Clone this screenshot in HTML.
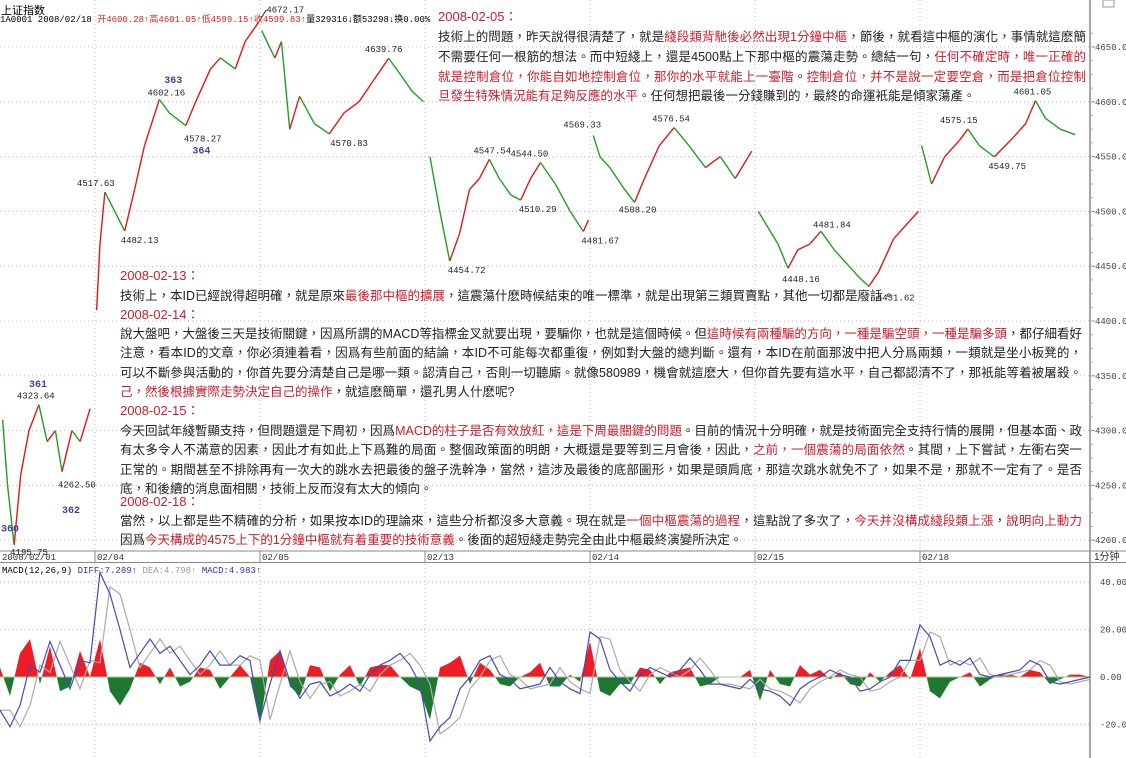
<!DOCTYPE html>
<html><head><meta charset="utf-8">
<style>
html,body{margin:0;padding:0;background:#fff;}
#wrap{position:relative;width:1126px;height:758px;overflow:hidden;background:#fff;font-family:"Liberation Sans","Noto Sans CJK TC",sans-serif;}
svg{position:absolute;left:0;top:0;}
.ln{position:absolute;font-size:12.5px;line-height:16px;height:16px;color:#222;white-space:nowrap;font-family:"Liberation Sans","Noto Sans CJK TC",sans-serif;}
.j{text-align:justify;text-align-last:justify;white-space:normal;overflow:hidden;}
.r{color:#c8202e;}
.t{color:#c8202e;font-size:13px;}
.hdr{position:absolute;font-family:"Liberation Mono","Noto Sans CJK SC",monospace;font-size:9px;white-space:nowrap;}
</style></head><body>
<div id="wrap">
<svg id="chart" width="1126" height="758"></svg>

<div class="hdr" style="left:1px;top:2px;font-size:11px;font-family:'Liberation Sans','Noto Sans CJK SC',sans-serif;">上证指数</div>
<div class="hdr" style="left:0;top:12px;">1A0001 2008/02/18 <span style="color:#e02020">开4600.28↑高4601.05↑低4599.15↑收4599.83↑</span>量329316↓额53298↓换0.00%</div>
<div class="hdr" style="left:2px;top:566px;">MACD(12,26,9) <span style="color:#3030c0">DIFF:7.289↑</span> <span style="color:#999">DEA:4.798↑</span> <span style="color:#3030c0">MACD:4.983↑</span></div>

<div class="ln t" style="left:438px;top:9px;">2008-02-05：</div>
<div class="ln j" style="left:438px;top:29px;width:648px;">技術上的問題，昨天說得很清楚了，就是<span class="r">綫段類背馳後必然出現1分鐘中樞</span>，節後，就看這中樞的演化，事情就這麽簡單，</div>
<div class="ln j" style="left:438px;top:49px;width:648px;">不需要任何一根筋的想法。而中短綫上，還是4500點上下那中樞的震蕩走勢。總結一句，<span class="r">任何不確定時，唯一正確的做法</span></div>
<div class="ln j" style="left:438px;top:69px;width:648px;"><span class="r">就是控制倉位，你能自如地控制倉位，那你的水平就能上一臺階</span>。<span class="r">控制倉位，并不是說一定要空倉，而是把倉位控制在一</span></div>
<div class="ln" style="left:438px;top:88px;"><span class="r">旦發生特殊情況能有足夠反應的水平</span>。任何想把最後一分錢賺到的，最終的命運衹能是傾家蕩產。</div>

<div class="ln t" style="left:120px;top:268px;">2008-02-13：</div>
<div class="ln" style="left:120px;top:288px;">技術上，本ID已經說得超明確，就是原來<span class="r">最後那中樞的擴展</span>，這震蕩什麽時候結束的唯一標準，就是出現第三類買賣點，其他一切都是廢話。</div>
<div class="ln t" style="left:120px;top:307px;">2008-02-14：</div>
<div class="ln j" style="left:120px;top:326px;width:962px;">說大盤吧，大盤後三天是技術關鍵，因爲所謂的MACD等指標金叉就要出現，要騙你，也就是這個時候。但<span class="r">這時候有兩種騙的方向，一種是騙空頭，一種是騙多頭</span>，都仔細看好了。</div>
<div class="ln j" style="left:120px;top:345px;width:962px;">注意，看本ID的文章，你必須連着看，因爲有些前面的結論，本ID不可能每次都重復，例如對大盤的總判斷。還有，本ID在前面那波中把人分爲兩類，一類就是坐小板凳的，一類是</div>
<div class="ln j" style="left:120px;top:365px;width:962px;">可以不斷參與活動的，你首先要分清楚自己是哪一類。認清自己，否則一切聽廝。就像580989，機會就這麽大，但你首先要有這水平，自己都認清不了，那衹能等着被屠殺。<span class="r">認清自</span></div>
<div class="ln" style="left:120px;top:384px;"><span class="r">己，然後根據實際走勢決定自己的操作</span>，就這麽簡單，還孔男人什麽呢?</div>
<div class="ln t" style="left:120px;top:403px;">2008-02-15：</div>
<div class="ln j" style="left:120px;top:423px;width:962px;">今天回試年綫暫顯支持，但問題還是下周初，因爲<span class="r">MACD的柱子是否有效放紅，這是下周最關鍵的問題</span>。目前的情況十分明確，就是技術面完全支持行情的展開，但基本面、政策面</div>
<div class="ln j" style="left:120px;top:442px;width:962px;">有太多令人不滿意的因素，因此才有如此上下爲難的局面。整個政策面的明朗，大概還是要等到三月會後，因此，<span class="r">之前，一個震蕩的局面依然</span>。其間，上下嘗試，左衝右突一下是很</div>
<div class="ln j" style="left:120px;top:462px;width:962px;">正常的。期間甚至不排除再有一次大的跳水去把最後的盤子洗幹净，當然，這涉及最後的底部圖形，如果是頭肩底，那這次跳水就免不了，如果不是，那就不一定有了。是否頭肩</div>
<div class="ln" style="left:120px;top:481px;">底，和後續的消息面相關，技術上反而沒有太大的傾向。</div>
<div class="ln t" style="left:120px;top:494px;">2008-02-18：</div>
<div class="ln j" style="left:120px;top:513px;width:962px;">當然，以上都是些不精確的分析，如果按本ID的理論來，這些分析都沒多大意義。現在就是<span class="r">一個中樞震蕩的過程</span>，這點說了多次了，<span class="r">今天并沒構成綫段類上漲</span>，<span class="r">說明向上動力不足</span>，</div>
<div class="ln" style="left:120px;top:532px;">因爲<span class="r">今天構成的4575上下的1分鐘中樞就有着重要的技術意義</span>。後面的超短綫走勢完全由此中樞最終演變所決定。</div>
</div>

<script>
// ---- data ----
const dayLabels = ["2008/02/01","02/04","02/05","02/13","02/14","02/15","02/18"];
const dayStarts = [0.424,1,2,3,4,5,6];
const priceTicks = [4650,4600,4550,4500,4450,4400,4350,4300,4250,4200];
const macdTicks = [40,20,0,-20];
const priceT = [0.44,0.47,0.51,0.55,0.6,0.66,0.71,0.76,0.8,0.86,0.91,0.97,
 1.01,1.03,1.06,1.12,1.18,1.24,1.3,1.39,1.45,1.55,1.61,1.7,1.76,1.85,1.91,1.99,
 2.01,2.09,2.13,2.18,2.24,2.33,2.42,2.51,2.6,2.69,2.78,2.85,2.92,2.99,
 3.03,3.09,3.15,3.21,3.27,3.33,3.39,3.45,3.52,3.58,3.64,3.7,3.79,3.88,3.96,3.99,
 4.02,4.06,4.12,4.21,4.27,4.33,4.42,4.51,4.6,4.7,4.79,4.88,4.98,
 5.02,5.08,5.14,5.2,5.26,5.33,5.4,5.48,5.57,5.63,5.69,5.75,5.84,5.93,5.99,
 6.01,6.07,6.15,6.24,6.29,6.36,6.45,6.55,6.64,6.7,6.76,6.85,6.94,7.0];
const priceV = [4310,4250,4195.75,4260,4300,4323.64,4290,4300,4262.5,4300,4290,4320,
 4410,4470,4517.63,4500,4482.13,4520,4560,4602.16,4590,4578.27,4600,4630,4640,4630,4655,4672.17,
 4665,4640,4655,4575,4605,4580,4570.83,4590,4600,4620,4639.76,4625,4610,4600,
 4550,4500,4454.72,4480,4520,4530,4547.54,4530,4515,4510.29,4530,4544.5,4525,4500,4481.67,4492,
 4569.33,4550,4540,4520,4508.2,4530,4560,4576.54,4560,4540,4550,4530,4555,
 4500,4485,4470,4448.16,4465,4470,4481.84,4465,4450,4440,4431.62,4445,4475,4490,4500,
 4560,4525,4550,4565,4575.15,4560,4549.75,4565,4580,4601.05,4585,4575,4570,4567];
const labelT = [1.99,1.39,1.55,1.06,1.18,2.78,2.51,3.15,3.39,3.58,3.7,3.96,4.02,4.27,4.51,5.2,5.4,5.69,6.29,6.45,6.7,0.66,0.8,0.51];
const labelP = [4672.17,4602.16,4578.27,4517.63,4482.13,4639.76,4570.83,4454.72,4547.54,4510.29,4544.5,4481.67,4569.33,4508.2,4576.54,4448.16,4481.84,4431.62,4575.15,4549.75,4601.05,4323.64,4262.5,4195.75];
const labelDX = [8,-12,-2,-28,-4,-24,-14,-2,-16,-2,-30,-2,-30,-16,-22,-6,-8,8,-28,-6,-22,-22,-4,-4];
const labelDY = [-10,-4,16,-6,12,-6,12,12,-6,12,-6,12,-8,10,-6,14,-4,14,-6,12,-6,-6,16,10];
const waveNames = ["363","364","361","362","360"];
const waveT = [1.42,1.59,0.6,0.8,0.43];
const waveP = [4617,4553,4340,4225,4208];
const macdHist = [4,-8,10,16,-3,13,-6,-4,11,0,16,-6,-12,-5,6,4,-3,4,-4,-2,4,3,-5,0,5,0,-20,7,11,-4,-8,5,4,-6,1,5,-4,4,5,5,0,-4,-6,-18,4,6,9,-3,6,3,-3,-4,0,2,6,
 -4,-4,1,-2,15,-6,-8,-3,-3,4,3,-3,2,3,4,-4,-3,0,0,0,3,-10,3,-3,-4,5,1,3,-1,2,-3,-4,2,-2,2,5,-1,12,-6,-9,-2,0,2,-4,-1,1,1,0,3,2,-3,-1,1,1,0];
const macdDiff = [-14,-21,-12,5,2,15,5,-5,7,6,44,35,20,4,10,16,10,13,7,1,5,11,5,5,9,7,-18,-3,11,-2,-9,-3,-2,-8,-6,-3,-6,1,5,7,10,5,-3,-27,-21,-17,-5,0,7,9,1,-1,-5,-4,-3,
 4,-2,-5,-7,19,16,3,-2,-6,1,4,2,0,3,8,3,-3,-3,-4,-5,-1,-5,-6,-8,-12,-5,-2,0,3,1,0,-6,-5,-2,0,7,7,22,17,5,7,5,8,1,0,1,2,3,7,5,-2,-3,-2,-1,0];
const macdDea = [-14,-14,-21,-12,5,2,15,5,-5,7,6,38,35,20,4,10,16,10,13,7,1,5,11,5,5,9,7,-18,-3,11,-2,-9,-3,-2,-8,-6,-3,-6,1,5,7,10,5,-3,-24,-21,-17,-5,0,7,9,1,-1,-5,-4,
 -3,4,-2,-5,-7,17,16,3,-2,-6,1,4,2,0,3,8,3,-3,-3,-4,-5,-1,-5,-6,-8,-11,-5,-2,0,3,1,0,-6,-5,-2,0,7,7,19,17,5,7,5,8,1,0,1,2,3,7,5,-2,-3,-2,-1];

// ---- scales ----
const X0 = 95, DAYW = 165, AXX = 1090;
const xT = t => X0 + (t - 1) * DAYW;
const yP = p => 47 + (4650 - p) * 1.096;
const yM = v => 677 - v * 2.37;
const xM = i => i * AXX / (macdHist.length - 1);

const svg = document.getElementById('chart');
const NS = 'http://www.w3.org/2000/svg';
function mk(tag, attrs, parent) {
  const e = document.createElementNS(NS, tag);
  for (const k in attrs) e.setAttribute(k, attrs[k]);
  (parent || svg).appendChild(e);
  return e;
}

let e;
e = mk('line', {x1:AXX,y1:0,x2:AXX,y2:758,stroke:'#888','stroke-width':1.5});


e = mk('line', {x1:0,y1:551,x2:1126,y2:551,stroke:'#888'});


e = mk('line', {x1:0,y1:562.5,x2:1126,y2:562.5,stroke:'#888'});


e = mk('rect', {x:1103,y:0,width:11,height:7,fill:'none',stroke:'#999'});



priceTicks.forEach(p => {
  const y = yP(p);
  e = mk('line', {x1:0,y1:y,x2:AXX,y2:y,stroke:'#bbb','stroke-dasharray':'1,3'});
  
  
  e = mk('line', {x1:AXX,y1:y,x2:AXX+5,y2:y,stroke:'#888'});
  
  
  e = mk('text', {x:AXX+5,y:y+3,'font-size':9,'font-family':'Liberation Mono, monospace',fill:'#444'});
  e.textContent = p.toFixed(1);
  
  
});
for (let p = 4200; p <= 4670; p += 12.5) {
  e = mk('line', {x1:AXX,y1:yP(p),x2:AXX+3,y2:yP(p),stroke:'#aaa'});
  
  
}
macdTicks.forEach(v => {
  const y = yM(v);
  if (v !== 0) {
    e = mk('line', {x1:0,y1:y,x2:AXX,y2:y,stroke:'#bbb','stroke-dasharray':'1,3'});
    
    
  }
  e = mk('text', {x:AXX+10,y:y+3,'font-size':9,'font-family':'Liberation Mono, monospace',fill:'#444'});
  e.textContent = v.toFixed(2);
  
  
});
e = mk('text', {x:AXX+4,y:560,'font-size':10,'font-family':'Liberation Sans, Noto Sans CJK SC, sans-serif',fill:'#333'});
e.textContent = '1分钟';



dayStarts.forEach((t, i) => {
  const x = i === 0 ? 0 : xT(t);
  if (i > 0) {
    e = mk('line', {x1:x,y1:0,x2:x,y2:758,stroke:'#bbb','stroke-dasharray':'1,3'});
    
    
    e = mk('line', {x1:x,y1:551,x2:x,y2:562,stroke:'#888'});
    
    
  }
  e = mk('text', {x:x+2,y:560,'font-size':9,'font-family':'Liberation Mono, monospace',fill:'#333'});
  e.textContent = dayLabels[i];
  
  
});

for (let i = 0; i < priceT.length - 1; i++) {
  if (Math.floor(priceT[i]) !== Math.floor(priceT[i+1])) continue;
  const up = priceV[i+1] >= priceV[i];
  e = mk('line', {x1:xT(priceT[i]),y1:yP(priceV[i]),x2:xT(priceT[i+1]),y2:yP(priceV[i+1]),stroke:up?'#e01818':'#20a020','stroke-width':1.4});
  
  
}

labelT.forEach((t, i) => {
  e = mk('text', {x:xT(t)+labelDX[i],y:yP(labelP[i])+labelDY[i],'font-size':9,'font-family':'Liberation Mono, monospace',fill:'#222'});
  e.textContent = labelP[i].toFixed(2);
  
  
});
e = mk('line', {x1:xT(1.99),y1:yP(4672.17),x2:xT(1.99)+8,y2:yP(4672.17)-13,stroke:'#222'});


waveNames.forEach((n, i) => {
  e = mk('text', {x:xT(waveT[i]),y:yP(waveP[i]),'font-size':10,'font-weight':'bold','font-family':'Liberation Mono, monospace',fill:'#4040a0'});
  e.textContent = n;
  
  
});

const z = yM(0);
function poly(pts, col) {
  e = mk('polygon', {points:pts.map(p => p.join(',')).join(' '),fill:col});
  
  
}
for (let i = 0; i < macdHist.length - 1; i++) {
  const a = macdHist[i], b = macdHist[i+1];
  const x0 = xM(i), x1 = xM(i+1);
  if (a * b >= 0) {
    const col = (a + b) >= 0 ? '#ee1c24' : '#207830';
    poly([[x0,yM(a)],[x1,yM(b)],[x1,z],[x0,z]], col);
  } else {
    const xc = x0 + (x1 - x0) * a / (a - b);
    poly([[x0,yM(a)],[xc,z],[x0,z]], a > 0 ? '#ee1c24' : '#207830');
    poly([[xc,z],[x1,yM(b)],[x1,z]], b > 0 ? '#ee1c24' : '#207830');
  }
}
e = mk('line', {x1:0,y1:z,x2:AXX,y2:z,stroke:'#9c9','stroke-width':1});



const deaPts = macdDea.map((d, i) => xM(i) + ',' + yM(d)).join(' ');
e = mk('polyline', {points:deaPts,fill:'none',stroke:'#aaa','stroke-width':1.2});


const diffPts = macdDiff.map((d, i) => xM(i) + ',' + yM(d)).join(' ');
e = mk('polyline', {points:diffPts,fill:'none',stroke:'#4848b8','stroke-width':1.2});


</script>
</body></html>
